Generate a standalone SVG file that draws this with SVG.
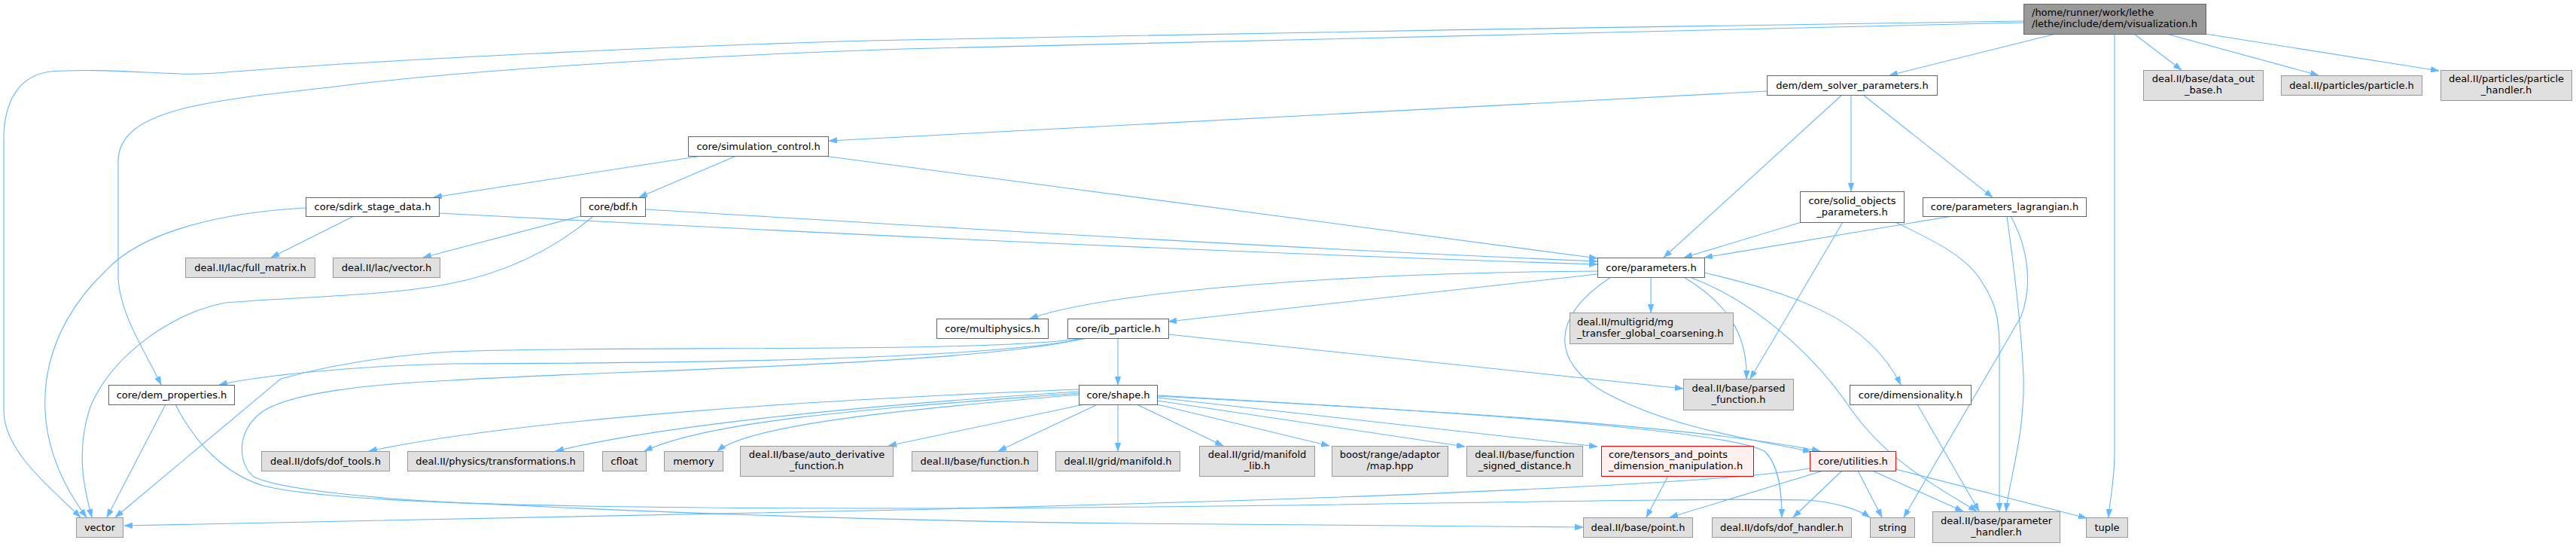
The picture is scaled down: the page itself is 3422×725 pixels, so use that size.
<svg xmlns="http://www.w3.org/2000/svg" width="3422" height="725" viewBox="0 0 3422 725">
<style>
text{font-family:"DejaVu Sans","Liberation Sans",sans-serif;font-size:13px;fill:#000}
.c{text-anchor:middle}
.w{fill:#fff;stroke:#666;stroke-width:1}
.g{fill:#e0e0e0;stroke:#999;stroke-width:1}
.r{fill:#fff0f0;stroke:#f00;stroke-width:1}
.t{fill:#999;stroke:#666;stroke-width:1}
.e path{fill:none;stroke:#63b8ff;stroke-width:1.1;marker-end:url(#ah)}
</style>
<defs>
<marker id="ah" markerUnits="userSpaceOnUse" markerWidth="11" markerHeight="8" refX="11" refY="4" orient="auto">
<path d="M0,0 L11,4 L0,8 z" fill="#63b8ff" stroke="#63b8ff" stroke-width="0.5"/>
</marker>
</defs>
<rect width="3422" height="725" fill="#fff"/>
<g id="edges" class="e">
<path d="M2731,45 L2510,100"/>
<path d="M2835,45 L2898,93"/>
<path d="M2878,45 L3080,100"/>
<path d="M2930,45 L3240,94"/>
<path d="M2809,45 L2809,600 C2809,640 2803,660 2801,687"/>
<path d="M2688,28 C2300,33 1600,45 1200,53 C900,60 500,80 312,95 C290,97 270,99 240,98 C180,96 120,91 67,95 C25,100 5,135 5,185 L5,545 C5,600 70,650 107,687"/>
<path d="M2688,30 C2300,40 1600,55 1200,65 C900,75 600,95 446,115 C360,125 300,130 240,145 C185,160 157,180 157,215 L157,370 C160,420 195,470 214,511"/>
<path d="M2347,121 L1101,187"/>
<path d="M2447,126 L2210,342"/>
<path d="M2459,126 L2459,254"/>
<path d="M2475,126 L2647,262"/>
<path d="M932,207 L576,262"/>
<path d="M978,207 L849,262"/>
<path d="M1094,207 L2122,343"/>
<path d="M470,287 L360,342"/>
<path d="M406,276 C300,282 190,305 140,360 C60,435 20,560 115,687"/>
<path d="M583,283 C1000,305 1600,335 2122,351"/>
<path d="M771,287 L562,342"/>
<path d="M788,287 C720,345 640,372 566,382 C480,394 380,395 300,402 C230,415 150,470 120,540 C100,600 112,650 122,687"/>
<path d="M857,278 C1100,292 1600,325 2122,347"/>
<path d="M2393,295 L2237,342"/>
<path d="M2448,295 L2325,503"/>
<path d="M2518,295 C2570,320 2610,340 2630,370 C2650,400 2656,420 2656,460 L2656,679"/>
<path d="M2593,287 L2264,342"/>
<path d="M2666,287 C2672,330 2685,430 2688,500 C2690,580 2668,640 2665,679"/>
<path d="M2671,287 C2695,330 2700,380 2685,420 L2529,687"/>
<path d="M2122,360 C1800,362 1480,385 1368,423"/>
<path d="M2122,364 L1552,427"/>
<path d="M2193,368 L2193,415"/>
<path d="M2237,368 C2290,400 2322,440 2320,503"/>
<path d="M2264,362 C2380,390 2480,420 2525,511"/>
<path d="M2245,368 C2330,400 2410,470 2460,545 C2510,615 2580,650 2626,679"/>
<path d="M2140,368 C2060,420 2060,480 2130,520 C2220,570 2340,585 2406,600"/>
<path d="M1485,449 L1485,511"/>
<path d="M1552,444 L2236,516"/>
<path d="M1440,449 C1300,470 800,458 600,467 C500,473 420,490 373,503 L153,687"/>
<path d="M1445,449 C1300,478 918,482 600,483 C460,486 340,500 291,511"/>
<path d="M1440,449 C1300,485 800,492 600,505 C500,510 380,520 344,550 C312,578 318,618 337,633 C370,650 500,662 600,667 C900,682 1200,692 1500,695 L2103,700"/>
<path d="M233,537 C260,590 300,630 350,645 C450,670 800,675 1200,675 C1700,675 2200,660 2400,664 C2440,667 2470,677 2484,687"/>
<path d="M220,537 L142,687"/>
<path d="M1433,517 C1100,530 700,555 490,599"/>
<path d="M1433,520 C1200,535 900,560 738,599"/>
<path d="M1433,522 C1200,540 950,555 856,599"/>
<path d="M1433,524 C1250,540 1000,560 953,599"/>
<path d="M1440,537 L1180,592"/>
<path d="M1458,537 L1326,599"/>
<path d="M1485,537 L1485,599"/>
<path d="M1510,537 L1625,592"/>
<path d="M1537,537 L1766,592"/>
<path d="M1537,532 L1946,593"/>
<path d="M1537,528 L2122,593"/>
<path d="M1537,526 C1900,545 2250,565 2418,599"/>
<path d="M1537,525 C1900,545 2300,570 2345,600 C2365,620 2367,660 2367,687"/>
<path d="M2216,632 L2187,687"/>
<path d="M2422,625 L2218,687"/>
<path d="M2404,622 C2300,640 1900,660 1200,677 C700,688 400,694 165,698"/>
<path d="M2447,625 L2382,687"/>
<path d="M2468,625 L2500,687"/>
<path d="M2487,625 L2608,679"/>
<path d="M2518,623 L2772,688"/>
<path d="M2547,537 L2629,679"/>
</g>
<g id="n_top"><rect class="t" x="2688.5" y="5.5" width="242" height="40"/><text x="2699" y="21">/home/runner/work/lethe</text><text x="2699" y="36">/lethe/include/dem/visualization.h</text></g>
<g id="n_ds"><rect class="w" x="2347.5" y="100.5" width="226" height="26"/><text class="c" x="2460.5" y="117.5">dem/dem_solver_parameters.h</text></g>
<g id="n_dob"><rect class="g" x="2847.5" y="93.5" width="159" height="40"/><text class="c" x="2927" y="109">deal.II/base/data_out</text><text class="c" x="2927" y="124">_base.h</text></g>
<g id="n_pp"><rect class="g" x="3030.5" y="100.5" width="187" height="26"/><text class="c" x="3124" y="117.5">deal.II/particles/particle.h</text></g>
<g id="n_ph"><rect class="g" x="3242.5" y="93.5" width="174" height="40"/><text class="c" x="3329.5" y="109">deal.II/particles/particle</text><text class="c" x="3329.5" y="124">_handler.h</text></g>
<g id="n_sc"><rect class="w" x="914.5" y="181.5" width="186" height="26"/><text class="c" x="1007.5" y="198.5">core/simulation_control.h</text></g>
<g id="n_so"><rect class="w" x="2391.5" y="254.5" width="138" height="41"/><text class="c" x="2460.5" y="270.5">core/solid_objects</text><text class="c" x="2460.5" y="285.5">_parameters.h</text></g>
<g id="n_pl"><rect class="w" x="2554.5" y="262.5" width="217" height="25"/><text class="c" x="2663" y="279">core/parameters_lagrangian.h</text></g>
<g id="n_sd"><rect class="w" x="406.5" y="262.5" width="177" height="25"/><text class="c" x="495" y="279">core/sdirk_stage_data.h</text></g>
<g id="n_bdf"><rect class="w" x="771.5" y="262.5" width="86" height="25"/><text class="c" x="814.5" y="279">core/bdf.h</text></g>
<g id="n_fm"><rect class="g" x="246.5" y="342.5" width="172" height="26"/><text class="c" x="332.5" y="359.5">deal.II/lac/full_matrix.h</text></g>
<g id="n_lv"><rect class="g" x="442.5" y="342.5" width="142" height="26"/><text class="c" x="513.5" y="359.5">deal.II/lac/vector.h</text></g>
<g id="n_par"><rect class="w" x="2122.5" y="342.5" width="142" height="26"/><text class="c" x="2193.5" y="359.5">core/parameters.h</text></g>
<g id="n_mp"><rect class="w" x="1244.5" y="423.5" width="148" height="26"/><text class="c" x="1318.5" y="440.5">core/multiphysics.h</text></g>
<g id="n_ib"><rect class="w" x="1418.5" y="423.5" width="134" height="26"/><text class="c" x="1485.5" y="440.5">core/ib_particle.h</text></g>
<g id="n_mg"><rect class="g" x="2085.5" y="415.5" width="217" height="41"/><text x="2095" y="431.5">deal.II/multigrid/mg</text><text x="2095" y="446.5">_transfer_global_coarsening.h</text></g>
<g id="n_dp"><rect class="w" x="144.5" y="511.5" width="167" height="26"/><text class="c" x="228" y="528.5">core/dem_properties.h</text></g>
<g id="n_pf"><rect class="g" x="2236.5" y="503.5" width="146" height="41"/><text class="c" x="2309.5" y="519.5">deal.II/base/parsed</text><text class="c" x="2309.5" y="534.5">_function.h</text></g>
<g id="n_dim"><rect class="w" x="2457.5" y="511.5" width="161" height="26"/><text class="c" x="2538" y="528.5">core/dimensionality.h</text></g>
<g id="n_sh"><rect class="w" x="1433.5" y="511.5" width="104" height="26"/><text class="c" x="1485.5" y="528.5">core/shape.h</text></g>
<g id="n_dt"><rect class="g" x="347.5" y="599.5" width="170" height="26"/><text class="c" x="432.5" y="616.5">deal.II/dofs/dof_tools.h</text></g>
<g id="n_tr"><rect class="g" x="541.5" y="599.5" width="234" height="26"/><text class="c" x="658.5" y="616.5">deal.II/physics/transformations.h</text></g>
<g id="n_cf"><rect class="g" x="800.5" y="599.5" width="58" height="26"/><text class="c" x="829.5" y="616.5">cfloat</text></g>
<g id="n_mem"><rect class="g" x="882.5" y="599.5" width="78" height="26"/><text class="c" x="921.5" y="616.5">memory</text></g>
<g id="n_ad"><rect class="g" x="983.5" y="592.5" width="203" height="40"/><text class="c" x="1085" y="608">deal.II/base/auto_derivative</text><text class="c" x="1085" y="623">_function.h</text></g>
<g id="n_fn"><rect class="g" x="1211.5" y="599.5" width="167" height="26"/><text class="c" x="1295" y="616.5">deal.II/base/function.h</text></g>
<g id="n_mf"><rect class="g" x="1402.5" y="599.5" width="165" height="26"/><text class="c" x="1485" y="616.5">deal.II/grid/manifold.h</text></g>
<g id="n_ml"><rect class="g" x="1593.5" y="592.5" width="153" height="40"/><text class="c" x="1670" y="608">deal.II/grid/manifold</text><text class="c" x="1670" y="623">_lib.h</text></g>
<g id="n_map"><rect class="g" x="1769.5" y="592.5" width="154" height="40"/><text class="c" x="1846.5" y="608">boost/range/adaptor</text><text class="c" x="1846.5" y="623">/map.hpp</text></g>
<g id="n_sdist"><rect class="g" x="1948.5" y="592.5" width="154" height="40"/><text class="c" x="2025.5" y="608">deal.II/base/function</text><text class="c" x="2025.5" y="623">_signed_distance.h</text></g>
<g id="n_tp"><rect class="r" x="2127.5" y="592.5" width="202" height="40"/><text x="2137" y="608">core/tensors_and_points</text><text x="2137" y="623">_dimension_manipulation.h</text></g>
<g id="n_ut"><rect class="r" x="2404.5" y="599.5" width="114" height="26"/><text class="c" x="2461.5" y="616.5">core/utilities.h</text></g>
<g id="n_vec"><rect class="g" x="101.5" y="687.5" width="62" height="26"/><text class="c" x="132.5" y="704.5">vector</text></g>
<g id="n_pt"><rect class="g" x="2103.5" y="687.5" width="145" height="26"/><text class="c" x="2176" y="704.5">deal.II/base/point.h</text></g>
<g id="n_dh"><rect class="g" x="2274.5" y="687.5" width="185" height="26"/><text class="c" x="2367" y="704.5">deal.II/dofs/dof_handler.h</text></g>
<g id="n_str"><rect class="g" x="2484.5" y="687.5" width="59" height="26"/><text class="c" x="2514" y="704.5">string</text></g>
<g id="n_prh"><rect class="g" x="2567.5" y="679.5" width="169" height="41"/><text class="c" x="2652" y="695.5">deal.II/base/parameter</text><text class="c" x="2652" y="710.5">_handler.h</text></g>
<g id="n_tup"><rect class="g" x="2771.5" y="687.5" width="55" height="26"/><text class="c" x="2799" y="704.5">tuple</text></g>
</svg>
